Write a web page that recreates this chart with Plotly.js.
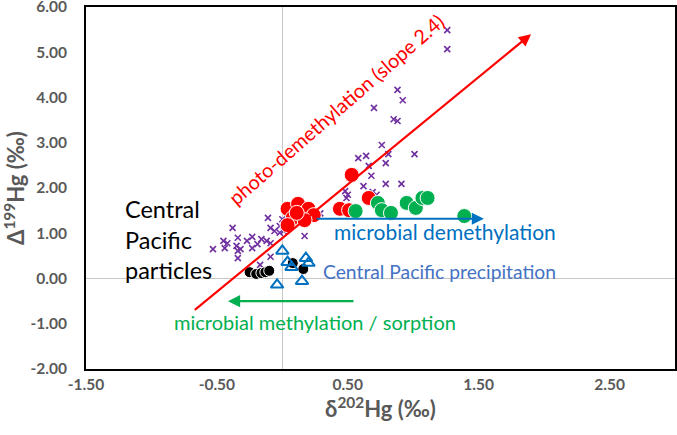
<!DOCTYPE html>
<html>
<head>
<meta charset="utf-8">
<script src="https://cdn.plot.ly/plotly-3.0.1.min.js"></script>
<style>html,body{margin:0;padding:0;background:#fff;}#chart{width:677px;height:435px;}</style>
</head>
<body>
<div id="chart"></div>
<script>
// Purple crosses (other data)
const crossX = [1.26,1.26,0.88,0.92,0.70,0.85,0.88,0.76,0.81,0.79,1.01,0.58,0.64,0.66,0.68,0.79,0.91,0.62,0.48,0.50,0.49,0.69,0.72,0.29,0.10,0.14,-0.11,-0.09,0.00,-0.02,-0.38,-0.23,-0.45,-0.42,-0.34,-0.53,-0.44,-0.35,-0.32,-0.34,-0.27,-0.23,-0.19,-0.16,-0.12,-0.09,-0.06,-0.02,0.01,-0.34,-0.09,0.17,-0.17];
const crossY = [5.49,5.07,4.17,3.94,3.77,3.52,3.48,2.95,2.75,2.55,2.75,2.66,2.71,2.49,2.27,2.09,2.09,2.04,1.93,1.85,1.78,1.91,1.85,1.44,1.49,1.45,1.34,1.12,1.31,1.16,1.12,0.92,0.83,0.78,0.90,0.65,0.67,0.72,0.65,0.61,0.83,0.67,0.76,0.87,0.83,0.78,1.05,1.01,1.05,0.45,0.48,0.94,0.30];
// Red circles
const redX = [0.53,0.66,0.44,0.51,0.04,0.12,0.20,0.24,0.08,0.04,0.17,0.11];
const redY = [2.29,1.78,1.54,1.51,1.54,1.65,1.54,1.40,1.34,1.18,1.29,1.45];
// Green circles
const greenX = [0.56,0.73,0.76,0.83,0.95,1.02,1.07,1.11,1.39];
const greenY = [1.49,1.67,1.51,1.45,1.67,1.56,1.78,1.78,1.38];
// Black circles: Central Pacific particles
const blackX = [-0.25,-0.20,-0.16,-0.13,-0.10,0.08,0.16];
const blackY = [0.14,0.10,0.12,0.14,0.17,0.34,0.21];
// Blue open triangles: Central Pacific precipitation
const triX = [0.00,0.04,0.07,0.18,0.20,-0.04,0.15];
const triY = [0.61,0.36,0.25,0.45,0.34,-0.14,-0.06];
// Tick labels
const xTickVals = [-1.5,-0.5,0.5,1.5,2.5];
const xTickText = ["-1.50","-0.50","0.50","1.50","2.50"];
const yTickVals = [-2,-1,0,1,2,3,4,5,6];
const yTickText = ["-2.00","-1.00","0.00","1.00","2.00","3.00","4.00","5.00","6.00"];
// Arrows [tailX, tailY, headX, headY]
const photoArrow = [-0.68,-0.72,1.90,5.40];
const demethArrow = [0.25,1.32,1.54,1.32];
const methArrow = [0.555,-0.50,-0.415,-0.50];

const FONT = "Lato, 'Open Sans', sans-serif";

const traces = [
  {x: crossX, y: crossY, type:'scatter', mode:'markers', hoverinfo:'skip',
   marker:{symbol:'x-thin-open', size:6, color:'#7030A0', line:{color:'#7030A0', width:1.6}}},
  {x: redX, y: redY, type:'scatter', mode:'markers',
   marker:{symbol:'circle', size:15, color:'#FF0000', line:{color:'#FFFFFF', width:1}}},
  {x: greenX, y: greenY, type:'scatter', mode:'markers',
   marker:{symbol:'circle', size:15, color:'#00B050', line:{color:'#FFFFFF', width:1}}},
  {x: blackX, y: blackY, type:'scatter', mode:'markers',
   marker:{symbol:'circle', size:11, color:'#000000', line:{color:'#FFFFFF', width:1}}},
  {x: triX, y: triY, type:'scatter', mode:'markers',
   marker:{symbol:'triangle-up-open', size:11, color:'#0070C0', line:{color:'#0070C0', width:2}}}
];

function arrow(a, color, width) {
  return {x:a[2], y:a[3], ax:a[0], ay:a[1], xref:'x', yref:'y', axref:'x', ayref:'y',
          text:'', showarrow:true, arrowhead:2, arrowsize:1.1, arrowwidth:width, arrowcolor:color, standoff:0};
}

const annotations = [
  arrow(photoArrow, '#FF0000', 2.2),
  arrow(demethArrow, '#0070C0', 2.2),
  arrow(methArrow, '#00B050', 2.2),
  {x:-1.217, y:0.873, xref:'x', yref:'y', xanchor:'left', yanchor:'middle', align:'left', showarrow:false,
   text:'Central<br>Pacific<br>particles', font:{family:FONT, size:23.5, color:'#000000'}},
  {x:0.38, y:1.03, xref:'x', yref:'y', xanchor:'left', yanchor:'middle', showarrow:false,
   text:'microbial demethylation', font:{family:FONT, size:21, color:'#0070C0'}},
  {x:0.296, y:0.144, xref:'x', yref:'y', xanchor:'left', yanchor:'middle', showarrow:false,
   text:'Central Pacific precipitation', font:{family:FONT, size:19.3, color:'#4472C4'}},
  {x:0.25, y:-0.97, xref:'x', yref:'y', xanchor:'center', yanchor:'middle', showarrow:false,
   text:'microbial methylation / sorption', font:{family:FONT, size:20, color:'#00B050'}},
  {x:0.41, y:3.75, xref:'x', yref:'y', xanchor:'center', yanchor:'middle', showarrow:false, textangle:-41,
   text:'photo-demethylation (slope 2.4)', font:{family:FONT, size:19.8, color:'#FF0000'}}
];

const layout = {
  width:677, height:435,
  margin:{l:86, r:2, t:7, b:66},
  paper_bgcolor:'#FFFFFF', plot_bgcolor:'#FFFFFF',
  showlegend:false,
  font:{family:FONT},
  xaxis:{range:[-1.5,3.0], tickmode:'array', tickvals:xTickVals, ticktext:xTickText,
         showgrid:false, zeroline:true, zerolinecolor:'#C8C8C8', zerolinewidth:1,
         showline:true, mirror:true, linecolor:'#000000', linewidth:2, ticks:'', ticklabeloverflow:'allow',
         tickfont:{family:FONT, size:15.5, color:'#595959', weight:'bold'},
         title:{text:'δ<sup>202</sup>Hg (‰)', font:{family:FONT, size:22, color:'#595959', weight:'bold'}, standoff:9}},
  yaxis:{range:[-2,6], tickmode:'array', tickvals:yTickVals, ticktext:yTickText,
         showgrid:false, zeroline:true, zerolinecolor:'#C8C8C8', zerolinewidth:1,
         showline:true, mirror:true, linecolor:'#000000', linewidth:2, ticks:'', ticklabelstandoff:14, ticklabeloverflow:'allow',
         tickfont:{family:FONT, size:15.5, color:'#595959', weight:'bold'},
         title:{text:'Δ<sup>199</sup>Hg (‰)', font:{family:FONT, size:22, color:'#595959', weight:'bold'}, standoff:3}},
  annotations: annotations
};

Plotly.newPlot('chart', traces, layout, {displayModeBar:false, staticPlot:true});
</script>
</body>
</html>
